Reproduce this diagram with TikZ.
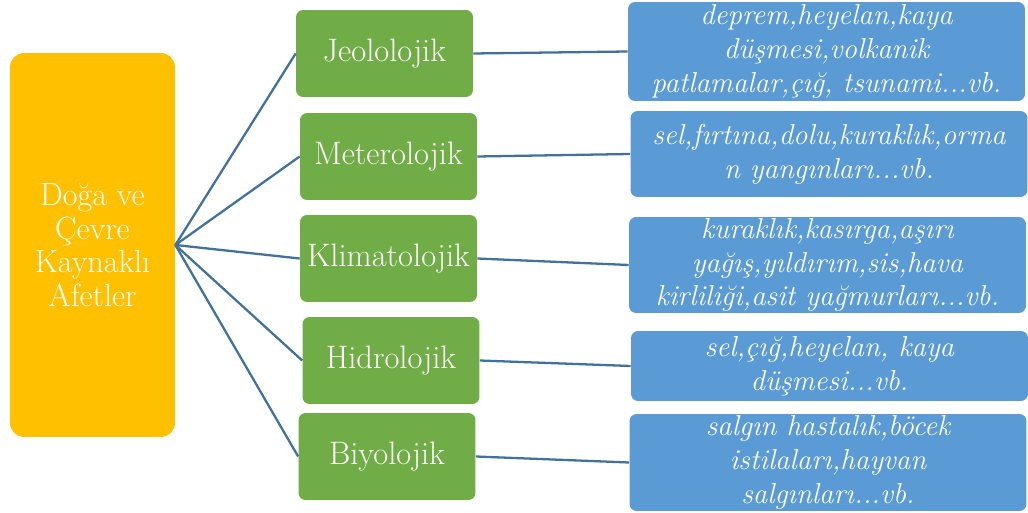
\documentclass[tikz,border=0pt]{standalone}
\usetikzlibrary{positioning}

\definecolor{afetorange}{HTML}{FFC000}
\definecolor{afetgreen}{HTML}{70AD47}
\definecolor{afetblue}{HTML}{5B9BD5}
\definecolor{afetline}{HTML}{41719C}

\begin{document}
\begin{tikzpicture}[
    x=0.02cm, y=-0.02cm,
    root/.style={fill=afetorange, rounded corners=8pt, text=white, align=center,
      minimum width=3.3cm, minimum height=7.68cm, inner sep=2pt,
      font=\fontsize{18.3}{19}\selectfont},
    kind/.style={fill=afetgreen, rounded corners=4pt, text=white,
      minimum width=3.54cm, minimum height=1.74cm, inner sep=1pt,
      font=\fontsize{18.5}{20}\selectfont},
    ornek/.style={fill=afetblue, rounded corners=4pt, text=white, align=center,
      minimum width=7.94cm, inner sep=0pt,
      font=\fontsize{16.4}{19.3}\selectfont\itshape},
    link/.style={afetline, line width=1.3pt}
  ]

  \useasboundingbox (0,0) rectangle (1028,513);

  % Ana kutu
  \node[root] (afet) at (92.5,245) {Doğa ve\\Çevre\\Kaynaklı\\Afetler};

  % Afet türleri
  \node[kind] (jeo)    at (384.5,53.5)  {Jeololojik};
  \node[kind] (meteo)  at (388.5,156.5) {Meterolojik};
  \node[kind] (klima)  at (388.5,258.5) {Klimatolojik};
  \node[kind] (hidro)  at (391,360.5)   {Hidrolojik};
  \node[kind] (biyo)   at (387,456.5)   {Biyolojik};

  % Örnekler
  \node[ornek, minimum height=1.98cm] (jeoex)   at (826.5,51.5)  {deprem,heyelan,kaya\\düşmesi,volkanik\\patlamalar,çığ, tsunami...vb.};
  \node[ornek, minimum height=1.72cm] (meteoex) at (829,154)     {sel,fırtına,dolu,kuraklık,orma\\n yangınları...vb.};
  \node[ornek, minimum height=1.92cm] (klimaex) at (827.5,265)   {kuraklık,kasırga,aşırı\\yağış,yıldırım,sis,hava\\kirliliği,asit yağmurları...vb.};
  \node[ornek, minimum height=1.40cm] (hidroex) at (829.5,366)   {sel,çığ,heyelan, kaya\\düşmesi...vb.};
  \node[ornek, minimum height=1.94cm] (biyoex)  at (828,462.5)   {salgın hastalık,böcek\\istilaları,hayvan\\salgınları...vb.};

  % Bağlantılar
  \foreach \t in {jeo, meteo, klima, hidro, biyo} {
    \draw[link] (afet.east) -- (\t.west);
    \draw[link] (\t.east) -- (\t ex.west);
  }

\end{tikzpicture}
\end{document}
